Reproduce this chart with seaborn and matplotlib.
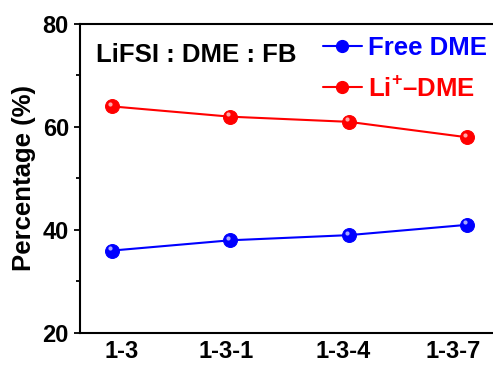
import matplotlib
matplotlib.use("Agg")
import matplotlib.pyplot as plt
import matplotlib.transforms as mtransforms
from matplotlib.lines import Line2D
from matplotlib.ticker import MultipleLocator
import seaborn as sns
import pandas as pd

sns.set_style("ticks")
plt.rcParams["font.family"] = ["Liberation Sans", "DejaVu Sans"]
plt.rcParams["font.weight"] = "bold"
plt.rcParams["text.color"] = "black"
plt.rcParams["axes.labelcolor"] = "black"
plt.rcParams["xtick.color"] = "black"
plt.rcParams["ytick.color"] = "black"
plt.rcParams["mathtext.fontset"] = "custom"
plt.rcParams["mathtext.rm"] = "Liberation Sans"
plt.rcParams["mathtext.bf"] = "Liberation Sans:bold"

# Composition ratios LiFSI : DME : FB
categories = ["1-3", "1-3-1", "1-3-4", "1-3-7"]
free_dme = [36, 38, 39, 41]
li_dme = [64, 62, 61, 58]

df = pd.DataFrame({
    "ratio": categories * 2,
    "value": free_dme + li_dme,
    "species": ["Free DME"] * 4 + ["Li$^{+}$\u2013DME"] * 4,
})

colors = {"Free DME": "#0000ff", "Li$^{+}$\u2013DME": "#ff0000"}
highlight = {"Free DME": "#a8a8ff", "Li$^{+}$\u2013DME": "#ffa8a8"}

fig = plt.figure(figsize=(4.93, 3.65), dpi=100)
ax = fig.add_axes([0.1623, 0.0877, 0.850, 0.8466])

for name, sub in df.groupby("species", sort=False):
    sns.lineplot(data=sub, x="ratio", y="value", ax=ax, color=colors[name],
                 linewidth=1.5, marker="o", markersize=10,
                 markeredgecolor=colors[name], legend=False)
    # small glossy highlight on each ball
    shift = mtransforms.offset_copy(ax.transData, fig=fig, x=-1.6, y=1.8, units="points")
    ax.plot(sub["ratio"], sub["value"], linestyle="none", marker="o",
            markersize=3.0, color=highlight[name], markeredgewidth=0,
            transform=shift, zorder=5)

ax.set_xlim(-0.27, 3.27)
ax.set_ylim(20, 80)
ax.yaxis.set_major_locator(MultipleLocator(20))
ax.yaxis.set_minor_locator(MultipleLocator(10))
ax.tick_params(axis="y", which="major", direction="out", length=4, width=1.3,
               labelsize=17, pad=4)
ax.tick_params(axis="y", which="minor", direction="out", length=3, width=1.3)
ax.tick_params(axis="x", which="major", length=0, labelsize=17, pad=5)
for lbl in ax.get_xticklabels() + ax.get_yticklabels():
    lbl.set_fontweight("bold")
    lbl.set_color("black")

# nudge the category labels sideways (pixel offsets)
label_shift_px = [10, -4, -6, -14]
for lbl, dx in zip(ax.get_xticklabels(), label_shift_px):
    lbl.set_transform(lbl.get_transform()
                      + mtransforms.ScaledTranslation(dx / 100, 0, fig.dpi_scale_trans))

for side in ["left", "bottom", "top", "right"]:
    ax.spines[side].set_linewidth(1.5)
    ax.spines[side].set_color("black")

ax.set_xlabel("")
ax.set_ylabel("Percentage (%)", fontsize=18.5, fontweight="bold", labelpad=5)

ax.text(0.038, 0.94, "LiFSI : DME : FB", transform=ax.transAxes,
        fontsize=18.5, fontweight="bold", va="top", ha="left", color="black")

handles = [
    Line2D([], [], color=colors[n], linewidth=1.5, marker="o", markersize=8.5)
    for n in colors
]
leg = ax.legend(handles, list(colors.keys()), loc="upper left",
                bbox_to_anchor=(0.58, 0.96), frameon=False, fontsize=18.5,
                borderaxespad=0, borderpad=0,
                handlelength=1.5, handletextpad=0.25, labelspacing=0.6)
for txt, n in zip(leg.get_texts(), colors):
    txt.set_color(colors[n])
    txt.set_fontweight("bold")

fig.savefig("out.png", dpi=100)
